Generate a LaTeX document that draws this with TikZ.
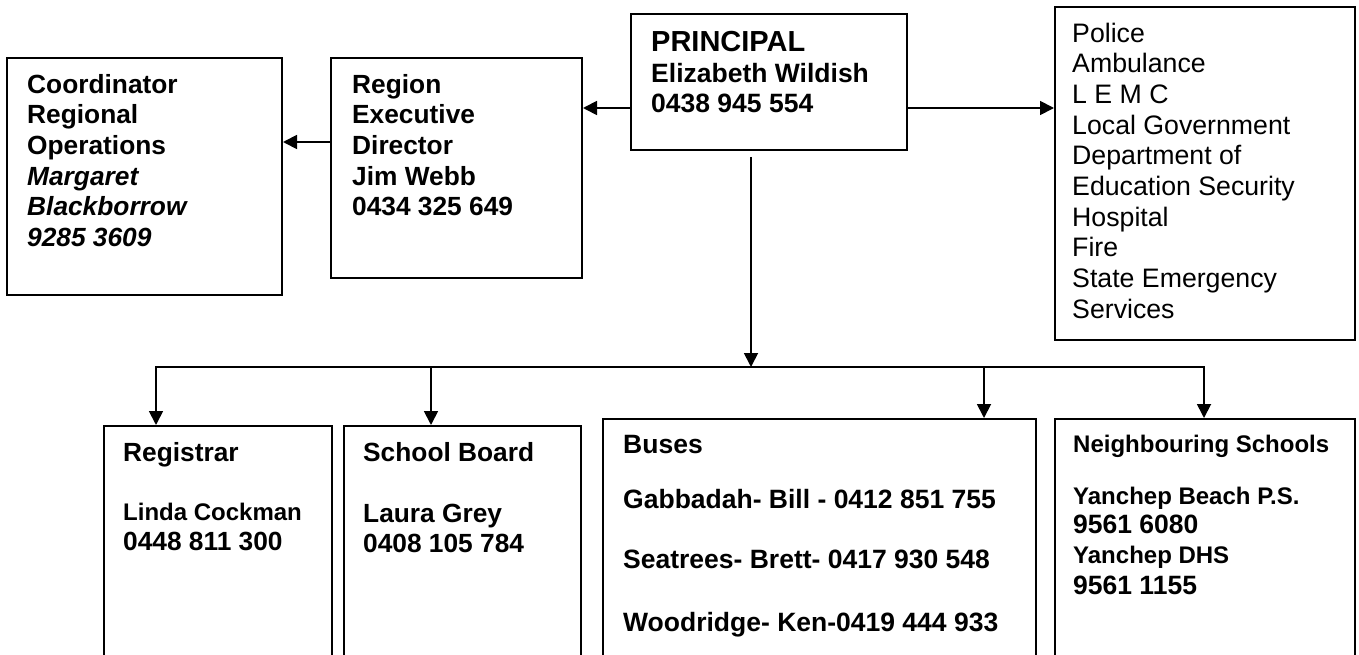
\documentclass[tikz,border=0pt]{standalone}
\usepackage{fontspec}
\setmainfont{Liberation Sans}
\usetikzlibrary{arrows.meta}
\begin{document}
\begin{tikzpicture}[x=1pt,y=-1pt,
  box/.style={draw, line width=2pt, rectangle, anchor=north west, inner sep=0pt},
  txt/.style={anchor=north west, inner sep=0pt, align=left, font=\bfseries\fontsize{26.3}{30.6}\selectfont},
  conn/.style={line width=1.8pt},
  arr/.style={conn, -{Triangle[length=14pt,width=14pt]}}]
\useasboundingbox (0,0) rectangle (1359,655);
\clip (0,0) rectangle (1359,655);
% boxes
\node[box, minimum width=275pt, minimum height=237pt] (coord) at (6,57) {};
\node[box, minimum width=251pt, minimum height=220pt] (reg) at (330,57) {};
\node[box, minimum width=276pt, minimum height=136pt] (pri) at (630,13) {};
\node[box, minimum width=300pt, minimum height=333pt] (srv) at (1054,6) {};
\node[box, minimum width=228pt, minimum height=260pt] (rg) at (103,425) {};
\node[box, minimum width=237pt, minimum height=260pt] (sb) at (343,425) {};
\node[box, minimum width=433pt, minimum height=260pt] (bus) at (602,418) {};
\node[box, minimum width=300pt, minimum height=260pt] (nb) at (1054,418) {};
% texts
\node[txt] (tcoord) at (27,74) {Coordinator\\Regional\\Operations\\\textit{Margaret}\\\textit{Blackborrow}\\\textit{9285 3609}};
\node[txt] (treg) at (352,74) {Region\\Executive\\Director\\Jim Webb\\0434 325 649};
\node[txt, font=\bfseries\fontsize{26.5}{30.2}\selectfont] (tpri) at (651,31.5) {{\fontsize{29}{30.2}\selectfont PRINCIPAL}\\Elizabeth Wildish\\0438 945 554};
\node[txt, font=\fontsize{26.7}{30.67}\selectfont] (tsrv) at (1072,22.5) {Police\\Ambulance\\L E M C\\Local Government\\Department of\\Education Security\\Hospital\\Fire\\State Emergency\\Services};
\node[txt, font=\bfseries\fontsize{26.3}{30.2}\selectfont] (trg) at (123,442.5) {Registrar\\[28.8pt]{\fontsize{24}{30.2}\selectfont Linda Cockman}\\0448 811 300};
\node[txt, font=\bfseries\fontsize{26.3}{30.2}\selectfont] (tsb) at (363,442.5) {School Board\\[30.8pt]Laura Grey\\0408 105 784};
\node[txt, font=\bfseries\fontsize{26.5}{30.2}\selectfont] (tbus) at (623,435.5) {Buses\\[24.8pt]Gabbadah- Bill - 0412 851 755\\[29.8pt]Seatrees- Brett- 0417 930 548\\[32.8pt]Woodridge- Ken-0419 444 933};
\node[txt, font=\bfseries\fontsize{26.5}{29.5}\selectfont] (tnb) at (1073,434.5) {{\fontsize{24}{29.5}\selectfont Neighbouring Schools}\\[22.5pt]{\fontsize{24}{29.5}\selectfont Yanchep Beach P.S.}\\9561 6080\\{\fontsize{24}{29.5}\selectfont Yanchep DHS}\\[1.5pt]9561 1155};
% connectors
\coordinate (yA) at (0,108);
\coordinate (yB) at (0,142);
\draw[arr] (pri.west |- yA) -- (reg.east |- yA);
\draw[arr] (pri.east |- yA) -- (srv.west |- yA);
\draw[arr] (reg.west |- yB) -- (coord.east |- yB);
\coordinate (vs) at (751,157);
\coordinate (hub) at (751,367);
\draw[arr] (vs) -- (hub);
\coordinate (hl) at (156,367);
\coordinate (h2) at (431,367);
\coordinate (h3) at (984,367);
\coordinate (hr) at (1204,367);
\draw[conn, line cap=rect] (hl) -- (hr);
\draw[arr] (hl) -- (hl |- rg.north);
\draw[arr] (h2) -- (h2 |- sb.north);
\draw[arr] (h3) -- (h3 |- bus.north);
\draw[arr] (hr) -- (hr |- nb.north);
\end{tikzpicture}
\end{document}
